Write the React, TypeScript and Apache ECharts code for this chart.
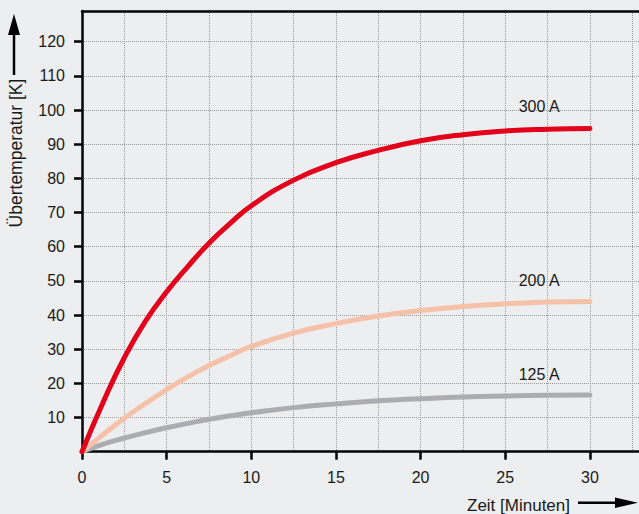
import React, { useEffect, useRef } from "react";
import * as echarts from "echarts";

const minutes = [0, 1.25, 2.5, 3.75, 5, 6.25, 7.5, 8.75, 10, 12.5, 15, 17.5, 20, 22.5, 25, 27.5, 30];
const temp300A = [0, 14.5, 27.5, 38.2, 46.8, 54.2, 61, 66.8, 72, 79.5, 84.6, 88.2, 91, 92.8, 93.9, 94.4, 94.6];
const temp200A = [0, 5.0, 9.8, 14.1, 18.2, 21.9, 25.2, 28.1, 30.8, 34.7, 37.5, 39.7, 41.3, 42.5, 43.3, 43.8, 44.0];
const temp125A = [0, 2.2, 4.0, 5.6, 7.0, 8.3, 9.5, 10.5, 11.4, 12.9, 14.0, 14.9, 15.5, 16.0, 16.3, 16.5, 16.6];

const xTickValues = [0, 5, 10, 15, 20, 25, 30];
const yTickValues = [10, 20, 30, 40, 50, 60, 70, 80, 90, 100, 110, 120];

const seriesNames = ["300 A", "200 A", "125 A"];
const seriesColors = ["#e2001a", "#f6c1a9", "#adadb1"];
const labelCoords: [number, number][] = [
  [27.0, 100.9],
  [27.0, 50.2],
  [27.0, 22.6],
];

const FONT = "'Liberation Sans', Arial, Helvetica, sans-serif";
const TEXT = "#1a1a1a";

export default function App() {
  const ref = useRef<HTMLDivElement>(null);

  useEffect(() => {
    if (!ref.current) return;
    const chart = echarts.init(ref.current, null, { renderer: "svg" });
    const allData = [temp300A, temp200A, temp125A];

    chart.setOption({
      animation: false,
      backgroundColor: "#eceef0",
      textStyle: { fontFamily: FONT },
      grid: { left: 82, top: 11, width: 557, height: 440.7, containLabel: false },
      xAxis: [
        {
          type: "value",
          min: 0,
          max: 32.9,
          interval: 5,
          axisLine: { show: true, onZero: false, lineStyle: { color: "#000", width: 2.5 } },
          axisTick: {
            show: true,
            customValues: xTickValues,
            length: 8,
            inside: false,
            lineStyle: { color: "#000", width: 2.5 },
          },
          axisLabel: {
            customValues: xTickValues,
            margin: 18,
            fontSize: 16,
            color: TEXT,
            fontFamily: FONT,
          },
          splitLine: { show: false },
          z: 5,
        },
        {
          type: "value",
          position: "top",
          min: 0,
          max: 32.9,
          interval: 2.5,
          axisLine: { show: true, onZero: false, lineStyle: { color: "#000", width: 2.5 } },
          axisTick: { show: false },
          axisLabel: { show: false },
          splitLine: { show: true, lineStyle: { color: "#999", width: 1, type: "dotted" } },
        },
      ],
      yAxis: {
        type: "value",
        min: 0,
        max: 129,
        interval: 10,
        axisLine: { show: true, onZero: false, lineStyle: { color: "#000", width: 2.5 } },
        axisTick: {
          show: true,
          customValues: yTickValues,
          length: 8,
          lineStyle: { color: "#000", width: 2.5 },
        },
        axisLabel: {
          customValues: yTickValues,
          margin: 17,
          fontSize: 16,
          color: TEXT,
          fontFamily: FONT,
        },
        splitLine: { show: true, lineStyle: { color: "#999", width: 1, type: "dotted" } },
      },
      series: allData.map((vals, i) => ({
        name: seriesNames[i],
        type: "line",
        xAxisIndex: 0,
        smooth: 0.5,
        symbol: "none",
        data: minutes.map((m, j) => [m, vals[j]]),
        lineStyle: { color: seriesColors[i], width: 5, cap: "round" },
        itemStyle: { color: seriesColors[i] },
        z: 10 - i,
        markPoint: {
          symbol: "rect",
          symbolSize: [1, 1],
          itemStyle: { color: "transparent" },
          label: {
            show: true,
            position: "inside",
            formatter: seriesNames[i],
            fontSize: 16,
            color: TEXT,
            fontFamily: FONT,
          },
          data: [{ coord: labelCoords[i] }],
        },
      })),
      graphic: [
        {
          type: "text",
          x: 16,
          y: 153,
          rotation: Math.PI / 2,
          style: {
            text: "Übertemperatur [K]",
            fontSize: 17.5,
            fontFamily: FONT,
            fill: TEXT,
            align: "center",
            verticalAlign: "middle",
          },
        },
        {
          type: "line",
          shape: { x1: 14, y1: 75, x2: 14, y2: 30 },
          style: { stroke: "#000", lineWidth: 2.5 },
        },
        {
          type: "polygon",
          shape: { points: [[14, 14], [8, 35], [20, 35]] },
          style: { fill: "#000" },
        },
        {
          type: "text",
          x: 518.5,
          y: 505,
          style: {
            text: "Zeit [Minuten]",
            fontSize: 17,
            fontFamily: FONT,
            fill: TEXT,
            align: "center",
            verticalAlign: "middle",
          },
        },
        {
          type: "line",
          shape: { x1: 578, y1: 502.7, x2: 620, y2: 502.7 },
          style: { stroke: "#000", lineWidth: 2.5 },
        },
        {
          type: "polygon",
          shape: { points: [[638, 502.7], [615, 497.4], [615, 508]] },
          style: { fill: "#000" },
        },
      ],
    });

    return () => chart.dispose();
  }, []);

  return (
    <div
      ref={ref}
      style={{ position: "fixed", left: 0, top: 0, width: 639, height: 514 }}
    />
  );
}
